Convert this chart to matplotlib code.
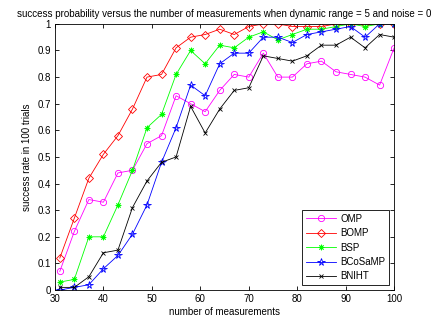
import numpy as np
import matplotlib
matplotlib.use('Agg')
import matplotlib.pyplot as plt

# number of measurements
m = [31, 34, 37, 40, 43, 46, 49, 52, 55, 58, 61, 64, 67, 70, 73, 76, 79, 82, 85, 88, 91, 94, 97, 100]

omp = [0.07, 0.22, 0.34, 0.33, 0.44, 0.45, 0.55, 0.58, 0.73, 0.70, 0.67, 0.75,
       0.81, 0.80, 0.89, 0.80, 0.80, 0.85, 0.86, 0.82, 0.81, 0.80, 0.77, 0.91]
bomp = [0.12, 0.27, 0.42, 0.51, 0.58, 0.68, 0.80, 0.81, 0.91, 0.95, 0.96, 0.98,
        0.96, 0.99, 1.0, 1.0, 0.99, 0.99, 0.99, 1.0, 1.0, 1.0, 1.0, 1.0]
bsp = [0.03, 0.04, 0.20, 0.20, 0.32, 0.45, 0.61, 0.66, 0.81, 0.90, 0.85, 0.92,
       0.91, 0.95, 0.97, 0.94, 0.96, 0.98, 0.98, 0.99, 1.0, 0.99, 1.0, 1.0]
bcosamp = [0.0, 0.01, 0.02, 0.08, 0.13, 0.21, 0.32, 0.48, 0.61, 0.77, 0.73, 0.85,
           0.89, 0.89, 0.95, 0.95, 0.93, 0.96, 0.97, 0.98, 0.99, 0.95, 1.0, 1.0]
bniht = [0.01, 0.01, 0.05, 0.14, 0.15, 0.31, 0.41, 0.48, 0.50, 0.69, 0.59, 0.68,
         0.75, 0.76, 0.88, 0.87, 0.86, 0.88, 0.92, 0.92, 0.95, 0.91, 0.96, 0.95]

plt.rcParams['font.family'] = ['Liberation Sans', 'DejaVu Sans']
plt.rcParams['font.size'] = 7

fig = plt.figure(figsize=(4.36, 3.27), dpi=100)
ax = fig.add_axes([0.126, 0.113, 0.778, 0.814])

lw = 0.6
ax.plot(m, omp, color='#ff00ff', marker='o', mfc='none', ms=4.5, lw=lw, mew=0.6, label='OMP')
ax.plot(m, bomp, color='#ff0000', marker='D', mfc='none', ms=3.6, lw=lw, mew=0.6, label='BOMP')
ax.plot(m, bsp, color='#00ff00', marker=(8, 2, 0), ms=4, lw=lw, mew=0.6, label='BSP')
ax.plot(m, bcosamp, color='#0000ff', marker='*', mfc='none', ms=5.5, lw=lw, mew=0.6, label='BCoSaMP')
ax.plot(m, bniht, color='#000000', marker='x', ms=3.2, lw=lw, mew=0.6, label='BNIHT')

ax.set_xlim(30, 100)
ax.set_ylim(0, 1)
ax.set_xticks(np.arange(30, 101, 10))
ax.set_yticks(np.arange(0, 1.01, 0.1))
ax.set_yticklabels(['0', '0.1', '0.2', '0.3', '0.4', '0.5', '0.6', '0.7', '0.8', '0.9', '1'])
ax.tick_params(direction='in', length=3, width=0.6, top=True, right=True, pad=3)
for s in ax.spines.values():
    s.set_linewidth(0.6)

ax.set_xlabel('number of measurements', labelpad=2)
ax.set_ylabel('success rate in 100 trials', labelpad=4)
ax.set_title('success probability versus the number of measurements when dynamic range = 5 and noise = 0',
             fontsize=7, pad=5)

leg = ax.legend(loc='lower right', fancybox=False, edgecolor='black', framealpha=1,
                borderaxespad=0.5, handlelength=3.0, handletextpad=0.5, labelspacing=0.45,
                borderpad=0.4, fontsize=7)
leg.get_frame().set_linewidth(0.6)

fig.savefig('out.png', dpi=100)
